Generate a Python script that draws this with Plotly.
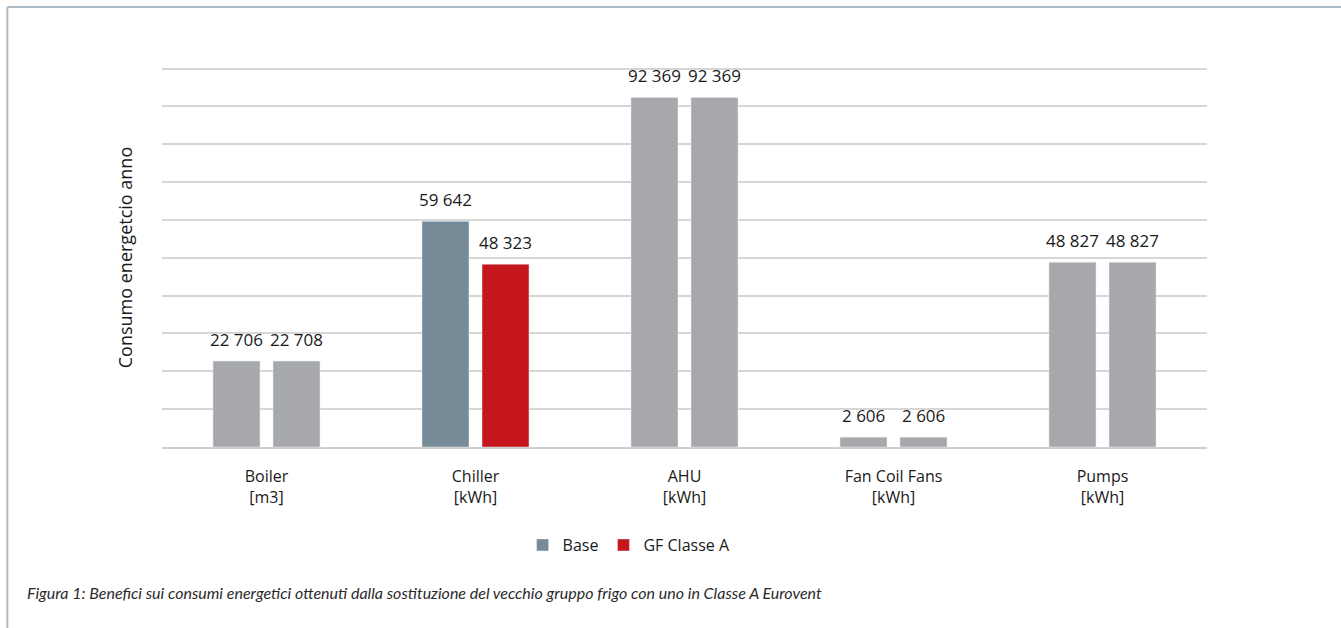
import plotly.graph_objects as go

# Annual energy consumption per system, before and after the chiller swap
categories = ["Boiler<br>[m3]", "Chiller<br>[kWh]", "AHU<br>[kWh]",
              "Fan Coil Fans<br>[kWh]", "Pumps<br>[kWh]"]
base = [22706, 59642, 92369, 2606, 48827]
gf_classe_a = [22708, 48323, 92369, 2606, 48827]

GREY = "#a7a8ab"
BASE_COL = "#768a97"
RED = "#c4161c"
highlight = "Chiller<br>[kWh]"

base_colors = [BASE_COL if c == highlight else GREY for c in categories]
gf_colors = [RED if c == highlight else GREY for c in categories]

def fmt(v):
    return f"{v:,}".replace(",", " ")

fig = go.Figure()
fig.add_trace(go.Bar(x=categories, y=base, marker_color=base_colors,
                     offsetgroup="base", showlegend=False, hoverinfo="skip"))
fig.add_trace(go.Bar(x=categories, y=gf_classe_a, marker_color=gf_colors,
                     offsetgroup="gf", showlegend=False, hoverinfo="skip"))
# legend swatches sharing the same offset groups
fig.add_trace(go.Bar(x=[None], y=[None], name="Base", marker_color=BASE_COL,
                     offsetgroup="base"))
fig.add_trace(go.Bar(x=[None], y=[None], name="GF Classe A", marker_color=RED,
                     offsetgroup="gf"))

annotations = []
for i, c in enumerate(categories):
    for v, shift in ((base[i], -30), (gf_classe_a[i], 30)):
        annotations.append(dict(x=c, y=v, xref="x", yref="y", text=fmt(v),
                                showarrow=False, xshift=shift, yshift=22,
                                yanchor="middle",
                                font=dict(size=17, color="#1a1a1a")))

annotations.append(dict(text="Consumo energetcio anno", textangle=-90,
                        x=-0.036, y=0.49, xref="paper", yref="paper",
                        xanchor="center", yanchor="middle",
                        showarrow=False, font=dict(size=18, color="#1a1a1a")))
annotations.append(dict(
    text="<i>Figura 1: Benefici sui consumi energetici ottenuti dalla sostituzione del vecchio gruppo frigo con uno in Classe A Eurovent</i>",
    x=-0.131, y=-0.376, xref="paper", yref="paper", xanchor="left",
    yanchor="middle", showarrow=False,
    font=dict(size=16, color="#2a2a2a", family="Lato")))

FRAME = "#aebbc4"
shapes = [
    dict(type="line", xref="paper", yref="paper", x0=-0.148, x1=1.2,
         y0=1.14, y1=1.14, line=dict(color=FRAME, width=2)),
    dict(type="line", xref="paper", yref="paper", x0=-0.148, x1=-0.148,
         y0=1.14, y1=-0.6, line=dict(color=FRAME, width=2)),
]

fig.update_layout(
    width=1341, height=628,
    margin=dict(l=162, r=134, t=61, b=181),
    paper_bgcolor="white", plot_bgcolor="white",
    barmode="group", bargap=0.4255, bargroupgap=0.217,
    font=dict(family="Open Sans", size=16, color="#1a1a1a"),
    xaxis=dict(showgrid=False, ticks="", showline=True, linecolor="#cfcfcf",
               linewidth=2, ticklabelstandoff=14,
               tickfont=dict(size=16, color="#1a1a1a")),
    yaxis=dict(range=[0, 102000], tickvals=list(range(10000, 100001, 10000)),
               showticklabels=False, showgrid=True, gridcolor="#d6d6d6",
               gridwidth=1.5, zeroline=False, ticks=""),
    legend=dict(orientation="h", x=0.447, xanchor="center", y=-0.254,
                yanchor="middle", font=dict(size=16, color="#1a1a1a"),
                itemwidth=30, traceorder="normal"),
    annotations=annotations,
    shapes=shapes,
)

fig.write_html("out.html")
